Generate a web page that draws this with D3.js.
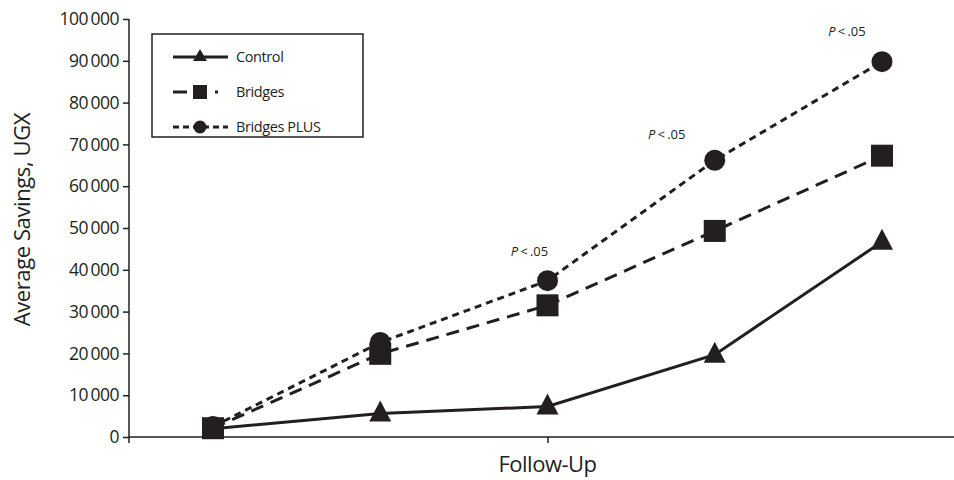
<!DOCTYPE html>
<html>
<head>
<meta charset="utf-8">
<script src="https://cdn.jsdelivr.net/npm/d3@7"></script>
<style>
  body { margin: 0; background: #fff; }
  text { font-family: "Open Sans", "Noto Sans", sans-serif; fill: #231f20; }
</style>
</head>
<body>
<svg id="chart" width="954" height="480"></svg>
<script>
// Follow-up waves (index positions along the x axis)
const waves = [0, 1, 2, 3, 4];
// Average savings (UGX) by study arm
const control = [2000, 5600, 7300, 19700, 46700];
const bridges = [2100, 19900, 31500, 49300, 67300];
const bridgesPlus = [2500, 22600, 37400, 66200, 89800];
const yTicks = [0, 10000, 20000, 30000, 40000, 50000, 60000, 70000, 80000, 90000, 100000];
// Waves at which the Bridges PLUS arm differs significantly
const noteWaves = [2, 3, 4];
const noteText = ".05";

const ink = "#231f20";
const svg = d3.select("#chart");

const x = d3.scaleLinear().domain([0, 4]).range([213, 882]);
const y = d3.scaleLinear().domain([0, 100000]).range([437, 19]);
const axisLeftX = 129, axisRightX = 954;

const series = [
  { name: "Control", values: control, dash: null, marker: "triangle" },
  { name: "Bridges PLUS", values: bridgesPlus, dash: "7,5", marker: "circle" },
  { name: "Bridges", values: bridges, dash: "13,8", marker: "square" }
];

// Y axis
const fmt = v => d3.format(",")(v).replace(/,/g, "\u2009");
const yAxis = svg.append("g")
  .attr("transform", `translate(${axisLeftX},0)`)
  .call(d3.axisLeft(y).tickValues(yTicks).tickFormat(fmt).tickSize(6).tickPadding(4));
yAxis.select(".domain").remove();
yAxis.selectAll(".tick line").attr("stroke", ink).attr("stroke-width", 1.5);
yAxis.selectAll(".tick text").attr("font-size", 17.5).style("font-family", "'Open Sans', sans-serif")
  .attr("fill", ink).attr("letter-spacing", -0.5);
svg.append("line").attr("x1", axisLeftX).attr("x2", axisLeftX).attr("y1", y(100000)).attr("y2", 443)
  .attr("stroke", ink).attr("stroke-width", 1.5);

// X axis with a single centred tick
const xAxis = svg.append("g")
  .attr("transform", `translate(0,${y(0)})`)
  .call(d3.axisBottom(x).tickValues([2]).tickFormat("").tickSize(6));
xAxis.select(".domain").remove();
xAxis.selectAll(".tick line").attr("stroke", ink).attr("stroke-width", 1.5);
svg.append("line").attr("x1", axisLeftX).attr("x2", axisRightX).attr("y1", y(0)).attr("y2", y(0))
  .attr("stroke", ink).attr("stroke-width", 1.5);

// Axis titles
svg.append("text").attr("x", x(2)).attr("y", 472).attr("text-anchor", "middle")
  .attr("font-size", 22).attr("letter-spacing", -0.5).text("Follow-Up");
svg.append("text").attr("transform", `translate(30,${y(52000)}) rotate(-90)`)
  .attr("text-anchor", "middle").attr("font-size", 22).attr("letter-spacing", -0.4).text("Average Savings, UGX");

// Markers
function drawMarker(g, type, cx, cy) {
  if (type === "circle") {
    g.append("circle").attr("cx", cx).attr("cy", cy).attr("r", 10.5).attr("fill", ink);
  } else if (type === "square") {
    g.append("rect").attr("x", cx - 11).attr("y", cy - 11).attr("width", 22).attr("height", 22).attr("fill", ink);
  } else {
    g.append("path").attr("d", `M${cx},${cy - 13}L${cx + 11},${cy + 8}L${cx - 11},${cy + 8}Z`).attr("fill", ink);
  }
}

const line = d3.line().x((d, i) => x(waves[i])).y(d => y(d));
series.forEach(s => {
  const g = svg.append("g");
  g.append("path").attr("d", line(s.values)).attr("fill", "none").attr("stroke", ink)
    .attr("stroke-width", 3).attr("stroke-dasharray", s.dash);
  s.values.forEach((v, i) => drawMarker(g, s.marker, x(waves[i]), y(v)));
});

// Significance notes, offset up-left of each Bridges PLUS point
const noteOffset = { 2: [-18, -25], 3: [-48, -21], 4: [-35, -26] };
noteWaves.forEach(w => {
  const [dx, dy] = noteOffset[w];
  const t = svg.append("text").attr("x", x(w) + dx).attr("y", y(bridgesPlus[w]) + dy)
    .attr("text-anchor", "middle").attr("font-size", 13);
  t.append("tspan").attr("font-style", "italic").text("P");
  t.append("tspan").text("\u2009<\u2009" + noteText);
});

// Legend
const legend = svg.append("g");
legend.append("rect").attr("x", 152).attr("y", 34).attr("width", 211).attr("height", 103)
  .attr("fill", "#fff").attr("stroke", ink).attr("stroke-width", 1.5);
const legendOrder = [series[0], series[2], series[1]];
const legendDash = { "Control": null, "Bridges": "14,6,14,8,3,20", "Bridges PLUS": "6,4" };
legendOrder.forEach((s, i) => {
  const ly = 57 + i * 35;
  const g = legend.append("g");
  g.append("line").attr("x1", 173).attr("x2", 228).attr("y1", ly).attr("y2", ly)
    .attr("stroke", ink).attr("stroke-width", 3).attr("stroke-dasharray", legendDash[s.name]);
  if (s.marker === "circle") g.append("circle").attr("cx", 200).attr("cy", ly).attr("r", 6.5).attr("fill", ink);
  else if (s.marker === "square") g.append("rect").attr("x", 193).attr("y", ly - 7).attr("width", 14).attr("height", 14).attr("fill", ink);
  else g.append("path").attr("d", `M200,${ly - 8}L207,${ly + 4}L193,${ly + 4}Z`).attr("fill", ink);
  g.append("text").attr("x", 236).attr("y", ly + 5).attr("font-size", 14.5).attr("letter-spacing", -0.4).text(s.name);
});
</script>
</body>
</html>
